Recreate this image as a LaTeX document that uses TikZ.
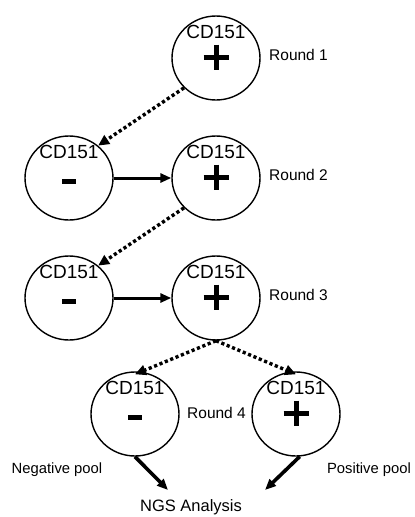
\documentclass[tikz,border=0pt]{standalone}
\usepackage{fontspec}
\setmainfont{Liberation Sans}
\usetikzlibrary{arrows.meta,shapes.geometric}
\newcommand{\drawplus}[1]{%
  \draw[sign] ([shift={(-12.5,-1)}]#1.center) -- ([shift={(12.5,-1)}]#1.center);
  \draw[sign] ([shift={(0,-13.5)}]#1.center) -- ([shift={(0,11.5)}]#1.center);}
\newcommand{\drawminus}[1]{%
  \draw[sign] ([shift={(-7,3.5)}]#1.center) -- ([shift={(7,3.5)}]#1.center);}
\begin{document}
\begin{tikzpicture}[x=1pt,y=-1pt,
  cell/.style={ellipse, draw, line width=1.4pt, minimum width=88pt, minimum height=84pt, inner sep=0pt},
  lbl/.style={font=\fontsize{19}{20}\selectfont, inner sep=0pt},
  rnd/.style={font=\fontsize{15.5}{18}\selectfont, anchor=west, inner sep=0pt},
  pool/.style={font=\fontsize{14.8}{17}\selectfont, inner sep=0pt},
  dotarrow/.style={line width=3.4pt, dash pattern=on 3.2pt off 2.6pt, -{Triangle[length=11pt,width=10pt]}},
  solidarrow/.style={line width=3pt, -{Triangle[length=11pt,width=9pt]}},
  sign/.style={line width=5pt}
]
\useasboundingbox (0,0) rectangle (415,517);
\fill[white] (0,0) rectangle (415,517);

% circles
\node[cell] (A1) at (216,58) {};
\node[cell] (B2L) at (69,178) {};
\node[cell] (B2R) at (216,178) {};
\node[cell] (C3L) at (69,298) {};
\node[cell] (C3R) at (216,298) {};
\node[cell] (D4L) at (135,414) {};
\node[cell] (D4R) at (296,414) {};

% labels inside
\foreach \c in {A1,B2L,B2R,C3L,C3R,D4L,D4R}{
  \node[lbl] (\c-t) at ([shift={(0,-26)}]\c.center) {CD151};
}
\drawplus{A1}
\drawplus{B2R}
\drawplus{C3R}
\drawplus{D4R}
\drawminus{B2L}
\drawminus{C3L}
\drawminus{D4L}

% round labels
\node[rnd] (r1) at (269,55) {Round 1};
\node[rnd] (r2) at (269,175) {Round 2};
\node[rnd] (r3) at (269,295) {Round 3};
\node[rnd] (r4) at (187,413) {Round 4};

\node[pool] (neg) at (57,470) {Negative pool};
\node[pool] (pos) at (369,470) {Positive pool};
\node[font=\fontsize{16.5}{19}\selectfont, inner sep=0pt] (ngs) at (191,507) {NGS Analysis};

% connectors
\draw[dotarrow] (A1.223) -- (B2L.48);
\draw[dotarrow] (B2R.223) -- (C3L.48);
\draw[dotarrow] (C3R.south) -- ([yshift=-3]D4L.north);
\draw[dotarrow] (C3R.south) -- ([yshift=-3]D4R.north);
\draw[solidarrow] (B2L.east) -- (B2R.west);
\draw[solidarrow] (C3L.east) -- (C3R.west);

\coordinate (tl) at (168,490);
\coordinate (tr) at (265,490);
\draw[solidarrow, line width=3.6pt] (D4L.south) -- (tl);
\draw[solidarrow, line width=3.6pt] (D4R.-85) -- (tr);
\end{tikzpicture}
\end{document}
